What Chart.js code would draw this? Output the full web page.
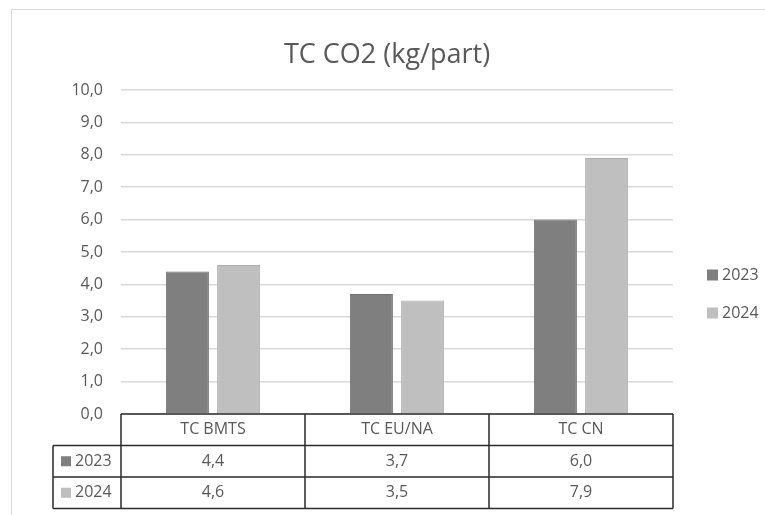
<!DOCTYPE html>
<html>
<head>
<meta charset="utf-8">
<script src="https://cdn.jsdelivr.net/npm/chart.js@4.4.1/dist/chart.umd.min.js"></script>
<style>
  html, body { margin: 0; padding: 0; background: #fff; }
  #wrap { width: 765px; height: 515px; position: relative; }
</style>
</head>
<body>
<div id="wrap"><canvas id="co2Chart" width="765" height="515"></canvas></div>
<script>
let categories = ["TC BMTS", "TC EU/NA", "TC CN"];
let series2023 = [4.4, 3.7, 6.0];
let series2024 = [4.6, 3.5, 7.9];
let seriesLabels = ["2023", "2024"];
let yTicks = [0, 1, 2, 3, 4, 5, 6, 7, 8, 9, 10];

const FONT = "'Open Sans', 'DejaVu Sans', sans-serif";
const TEXT = "#595959";

function fmt(v) {
    return v.toFixed(1).replace(".", ",");
}

// frame, data table under the axis and legend on the right
const tablePlugin = {
    id: "tablePlugin",
    beforeDraw(chart) {
        let ctx = chart.ctx;
        ctx.save();
        ctx.strokeStyle = "#d9d9d9";
        ctx.lineWidth = 1;
        ctx.strokeRect(11.5, 9.5, 900, 700);
        ctx.restore();
    },
    afterDraw(chart) {
        let ctx = chart.ctx;
        let area = chart.chartArea;
        let x = chart.scales.x;
        let rowH = 31.5;
        let top = area.bottom;
        let left = 53;
        let catW = (area.right - area.left) / categories.length;

        ctx.save();
        ctx.strokeStyle = "#2b2b2b";
        ctx.lineWidth = 1.5;
        ctx.beginPath();
        // header row
        ctx.moveTo(area.left, top);
        ctx.lineTo(area.right, top);
        for (let r = 1; r <= 3; r++) {
            ctx.moveTo(left, top + rowH * r);
            ctx.lineTo(area.right, top + rowH * r);
        }
        ctx.moveTo(left, top + rowH);
        ctx.lineTo(left, top + rowH * 3);
        for (let c = 0; c <= categories.length; c++) {
            let cx = area.left + catW * c;
            ctx.moveTo(cx, top);
            ctx.lineTo(cx, top + rowH * 3);
        }
        ctx.stroke();

        ctx.fillStyle = TEXT;
        ctx.font = "16px " + FONT;
        ctx.textAlign = "center";
        ctx.textBaseline = "middle";
        categories.forEach((cat, i) => {
            let cx = x.getPixelForValue(i);
            ctx.fillText(cat, cx, top + rowH * 0.5);
            chart.data.datasets.forEach((ds, j) => {
                ctx.fillText(fmt(ds.data[i]), cx, top + rowH * (j + 1.5));
            });
        });

        chart.data.datasets.forEach((ds, j) => {
            let cy = top + rowH * (j + 1.5);
            ctx.fillStyle = ds.backgroundColor;
            ctx.fillRect(61, cy - 5, 10, 10);
            ctx.fillStyle = TEXT;
            ctx.textAlign = "left";
            ctx.fillText(ds.label, 75, cy);
        });

        // legend
        chart.data.datasets.forEach((ds, j) => {
            let cy = 275 + j * 38;
            ctx.fillStyle = ds.backgroundColor;
            ctx.fillRect(707, cy - 5.5, 11, 11);
            ctx.fillStyle = TEXT;
            ctx.textAlign = "left";
            ctx.fillText(ds.label, 722, cy);
        });
        ctx.restore();
    }
};

window.onload = function() {
    let ctx = document.getElementById("co2Chart").getContext("2d");
    new Chart(ctx, {
        type: "bar",
        data: {
            labels: categories,
            datasets: [{
                label: seriesLabels[0],
                data: series2023,
                backgroundColor: "#7f7f7f",
                borderColor: "#707070",
                borderWidth: 1
            }, {
                label: seriesLabels[1],
                data: series2024,
                backgroundColor: "#bfbfbf",
                borderColor: "#aeaeae",
                borderWidth: 1
            }]
        },
        options: {
            responsive: false,
            animation: false,
            devicePixelRatio: 1,
            layout: {
                padding: { left: 9, right: 0, top: 0, bottom: 101 }
            },
            categoryPercentage: 0.557,
            barPercentage: 0.84,
            plugins: {
                legend: { display: false },
                tooltip: { enabled: false },
                title: {
                    display: true,
                    text: "TC CO2 (kg/part)",
                    color: TEXT,
                    font: { family: FONT, size: 27, weight: "normal", lineHeight: 1.2 },
                    padding: { top: 39, bottom: 18.6 }
                }
            },
            scales: {
                x: {
                    display: false
                },
                y: {
                    min: 0,
                    max: 10,
                    afterBuildTicks(scale) {
                        scale.ticks = yTicks.map(v => ({ value: v }));
                    },
                    afterFit(scale) {
                        scale.width = 112;
                    },
                    border: { display: false },
                    grid: { color: "#d9d9d9", lineWidth: 1.5, drawTicks: false },
                    ticks: {
                        color: TEXT,
                        padding: 18,
                        font: { family: FONT, size: 16 },
                        callback: v => fmt(v)
                    }
                },
                // empty right-hand axis that keeps room for the legend
                yRight: {
                    position: "right",
                    min: 0,
                    max: 10,
                    grid: { display: false },
                    border: { display: false },
                    ticks: { display: false },
                    afterFit(scale) {
                        scale.width = 92;
                    }
                }
            }
        },
        plugins: [tablePlugin]
    });
};
</script>
</body>
</html>
